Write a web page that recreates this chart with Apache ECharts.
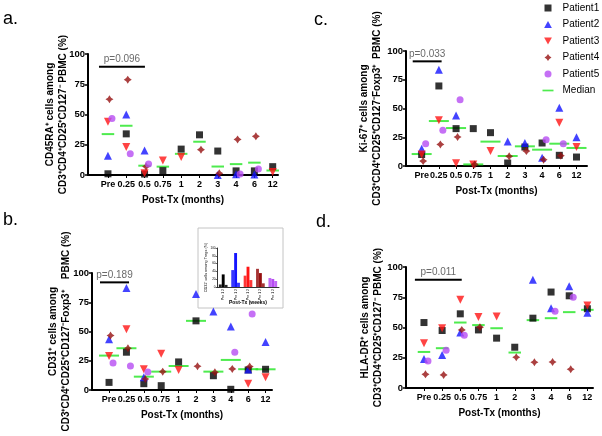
<!DOCTYPE html>
<html><head><meta charset="utf-8">
<script src="https://cdn.jsdelivr.net/npm/echarts@6/dist/echarts.min.js"></script>
<style>html,body{margin:0;padding:0;background:#fff}#c{width:602px;height:436px}</style>
</head><body><div id="c"></div><script>
// ---------- data ----------
const categories = ['Pre','0.25','0.5','0.75','1','2','3','4','6','12'];
const patientNames = ['Patient1','Patient2','Patient3','Patient4','Patient5'];
const insetCategories = ['Pre 1 2','Pre 1 2','Pre 1 2','Pre 1 2','Pre 1 2'];
const insetTimeNames = ['Pre','Week 1','Week 2'];

// a. CD45RA+
const a_P1 = [1, 34, 0.8, 3.6, 21.4, 33.2, 19.8, 3.4, 3.4, 6.9];
const a_P2 = [16, 50, 20.3, null, null, null, 0, 0.6, 0.4, null];
const a_P3 = [44, 23.2, 1.4, 12, 14.9, null, null, null, null, 2.5];
const a_P4 = [62.6, 78.8, 7, null, null, 20.9, 1.4, 29.4, 32, null];
const a_P5 = [46.7, 17.5, 9, null, null, null, null, 0.9, 5, null];
const a_Median = [33.8, 40.7, 7.7, 6.9, 17.5, 27.5, 7, 9, 10.2, 3.7];

// b. CD31+
const b_P1 = [6.5, 32.3, 5.4, 3.7, 24, 59.1, 12.2, 0.6, 17.1, 17.7];
const b_P2 = [43.4, 87.1, 10.9, null, null, 82, 67.1, 54.3, 17.5, 41.1];
const b_P3 = [29.1, 52, 17.8, 30.9, 17.1, null, null, null, 5.3, 10.9];
const b_P4 = [46.6, 35.7, 9.4, 15.7, null, 20.3, 15.1, 18, 20, null];
const b_P5 = [23, 20.6, 15.4, null, null, null, null, 32.3, 64.9, null];
const b_Median = [29.4, 35.7, 11.4, 15.7, 20.5, 59.1, 15.7, 25.7, 17.8, 17.7];

// c. Ki-67+
const c_P1 = [10, 69.6, 32.5, 32.5, 29, 2.6, 16.5, 20, 9.3, 7.8];
const c_P2 = [15, 83.8, 44, null, null, 21.4, 20, 7.2, 50.7, 24.9];
const c_P3 = [9.9, 39.7, 2.3, 1.2, 13, null, null, null, 37.7, 16.5];
const c_P4 = [4.3, 18.8, 25.2, 1.4, null, 8.4, 13, 5.5, 9, null];
const c_P5 = [19.4, 31, 57.7, null, null, null, null, 22.9, 19.4, null];
const c_Median = [10.4, 39.1, 33, 1.4, 21.2, 8.7, 17.1, 14.2, 19.4, 15.7];

// d. HLA-DR+
const d_P1 = [54.1, 47.5, 61.3, 48, 41.2, 33.7, 57.7, 79.3, 76.2, 65.5];
const d_P2 = [24, 27.3, 45.9, null, null, null, 89.5, 66, 84, 62.2];
const d_P3 = [37, 49.4, 72.9, 58.6, 59.1, null, null, null, null, 68.2];
const d_P4 = [11.3, 10.8, 48, 50.3, null, 25.4, 21.3, 21.5, 15.5, null];
const d_P5 = [22.4, 31.2, 43.6, null, null, null, null, 63.5, 75.1, null];
const d_Median = [29.8, 32.9, 54.1, 52, 49.4, 29.3, 56.1, 57.7, 62.7, 64.6];

const pValues = ['p=0.096','p=0.189','p=0.033','p=0.011'];

// ---------- styling ----------
const FONT = '"Liberation Sans", Arial, sans-serif';
const colors = ['#000000','#1414ff','#ff1414','#961010','#b64cf2'];
const medianColor = '#22e622';
const symbols = [
  'path://M0,0H10V10H0Z',
  'path://M5,0L10,9L0,9Z',
  'path://M0,0L10,0L5,9Z',
  'path://M5,0L7,3L10,5L7,7L5,10L3,7L0,5L3,3Z',
  'circle'
];
const symSizes = [7, 8, 8, 8, 7];
const symOffsets = [[0,0],[0,0],[0,0],[1.5,0],[4,0]];

const panels = [
  { series:[a_P1,a_P2,a_P3,a_P4,a_P5], median:a_Median,
    grid:{left:88, top:54, width:190, height:121}, xMin:-1.09, xMax:9.29,
    yName:'CD45RA⁺ cells among\nCD3⁺CD4⁺CD25⁺CD127⁻ PBMC (%)', nameGap:18,
    medW:12.5, pLine:[-0.49, 2.02, 89.5] },
  { series:[b_P1,b_P2,b_P3,b_P4,b_P5], median:b_Median,
    grid:{left:92, top:273, width:180, height:117}, xMin:-0.98, xMax:9.37,
    yName:'CD31⁺ cells among\nCD3⁺CD4⁺CD25⁺CD127⁻Foxp3⁺    PBMC (%)', nameGap:19,
    medW:20, pLine:[-0.52, 1.15, 92] },
  { series:[c_P1,c_P2,c_P3,c_P4,c_P5], median:c_Median,
    grid:{left:406, top:51, width:181, height:115}, xMin:-0.91, xMax:9.61,
    yName:'Ki-67⁺ cells among\nCD3⁺CD4⁺CD25⁺CD127⁻Foxp3⁺  PBMC (%)', nameGap:22,
    medW:20, pLine:[-0.52, 1.16, 91] },
  { series:[d_P1,d_P2,d_P3,d_P4,d_P5], median:d_Median,
    grid:{left:406, top:267, width:187, height:121}, xMin:-0.99, xMax:9.31,
    yName:'HLA-DR⁺ cells among\nCD3⁺CD4⁺CD25⁺CD127⁻ PBMC (%)', nameGap:21,
    medW:12.5, pLine:[-0.5, 2.08, 89.5] }
];

const toPts = arr => arr.map((v,i)=>[i,v]).filter(p=>p[1]!=null);
const catIdx = categories.map((_,i)=>i);

const grids = [], xAxes = [], yAxes = [], series = [];
panels.forEach((p, pi) => {
  grids.push(p.grid);
  xAxes.push({
    type:'value', gridIndex:pi, min:p.xMin, max:p.xMax,
    name:'Post-Tx (months)', nameLocation:'middle', nameGap:20, nameMoveOverlap:false,
    nameTextStyle:{fontFamily:FONT, fontWeight:'bold', fontSize:10, color:'#000'},
    axisLine:{show:true, onZero:false, lineStyle:{color:'#000', width:2}},
    axisTick:{show:true, length:3, customValues:catIdx, lineStyle:{color:'#000', width:1}},
    axisLabel:{customValues:catIdx, formatter:v=>categories[Math.round(v)] ?? '',
      fontFamily:FONT, fontWeight:'bold', fontSize:9, color:'#000', margin:5},
    splitLine:{show:false}
  });
  yAxes.push({
    type:'value', gridIndex:pi, min:0, max:100, interval:25, position:'left',
    name:p.yName, nameLocation:'middle', nameRotate:90, nameGap:p.nameGap, nameMoveOverlap:false,
    nameTextStyle:{fontFamily:FONT, fontWeight:'bold', fontSize:10, color:'#000', lineHeight:13},
    axisLine:{show:true, onZero:false, lineStyle:{color:'#000', width:2}},
    axisTick:{show:true, length:3, lineStyle:{color:'#000', width:1.5}},
    axisLabel:{fontFamily:FONT, fontWeight:'bold', fontSize:9.5, color:'#000', margin:3},
    splitLine:{show:false}
  });
  // p-value bracket
  series.push({
    name:'pBar'+pi, type:'line', xAxisIndex:pi, yAxisIndex:pi, silent:true,
    data:[[p.pLine[0], p.pLine[2]],[p.pLine[1], p.pLine[2]]],
    symbol:'none', lineStyle:{color:'#000', width:2}, z:1
  });
  series.push({
    name:'pText'+pi, type:'scatter', xAxisIndex:pi, yAxisIndex:pi, silent:true,
    data:[[(p.pLine[0]+p.pLine[1])/2, p.pLine[2]]], symbolSize:0,
    label:{show:true, position:'top', distance:2, formatter:pValues[pi],
      fontFamily:FONT, fontSize:10, color:'#444'}, z:1
  });
  // medians
  series.push({
    name:'Median', type:'scatter', xAxisIndex:pi, yAxisIndex:pi,
    data:toPts(p.median), symbol:'rect', symbolSize:[p.medW, 2],
    itemStyle:{color:medianColor}, z:1, silent:true
  });
  p.series.forEach((arr, si) => {
    series.push({
      name:patientNames[si], type:'scatter', xAxisIndex:pi, yAxisIndex:pi,
      data:toPts(arr), symbol:symbols[si], symbolSize:symSizes[si],
      symbolOffset:symOffsets[si], itemStyle:{color:colors[si]}, z:2
    });
  });
});

// inset (panel b, first three time points)
const bAll = panels[1].series;
grids.push({left:217, top:248, width:62, height:39});
xAxes.push({
  type:'category', gridIndex:4, data:insetCategories, z:3,
  name:'Post-Tx (weeks)', nameLocation:'middle', nameGap:13, nameMoveOverlap:false,
  nameTextStyle:{fontFamily:FONT, fontWeight:'bold', fontSize:5, color:'#000'},
  axisLine:{lineStyle:{color:'#000', width:0.8}},
  axisTick:{show:false},
  axisLabel:{rotate:90, fontSize:3.5, fontFamily:FONT, color:'#000', margin:2, interval:0}
});
yAxes.push({
  type:'value', gridIndex:4, min:0, max:100, interval:20, z:3,
  name:'CD31⁺ cells among Tregs (%)', nameLocation:'middle', nameRotate:90, nameGap:9, nameMoveOverlap:false,
  nameTextStyle:{fontFamily:FONT, fontSize:3.8, color:'#000'},
  axisLine:{show:true, onZero:false, lineStyle:{color:'#000', width:0.8}},
  axisTick:{show:true, length:1.5, lineStyle:{color:'#000', width:0.6}},
  axisLabel:{fontSize:3, fontFamily:FONT, color:'#000', margin:1.5},
  splitLine:{show:false}
});
insetTimeNames.forEach((tn, ti) => {
  series.push({
    name:tn, type:'bar', xAxisIndex:4, yAxisIndex:4, z:4,
    barGap:'0%', barCategoryGap:'30%', silent:true,
    data:bAll.map((arr, si)=>({value:arr[ti], itemStyle:{color:colors[si], opacity: ti===1?1:0.85}}))
  });
});

const option = {
  animation:false,
  backgroundColor:'#fff',
  textStyle:{fontFamily:FONT},
  grid:grids, xAxis:xAxes, yAxis:yAxes, series:series,
  legend:{
    orient:'vertical', left:542.5, top:3, padding:0, itemGap:6.5,
    itemWidth:11, itemHeight:7,
    textStyle:{fontFamily:FONT, fontSize:10, color:'#000', padding:[0,0,0,4], lineHeight:7},
    data:[
      {name:'Patient1', icon:symbols[0]},
      {name:'Patient2', icon:symbols[1]},
      {name:'Patient3', icon:symbols[2]},
      {name:'Patient4', icon:symbols[3]},
      {name:'Patient5', icon:'circle'},
      {name:'Median', icon:'path://M0,0H11V1.7H0Z'}
    ]
  },
  graphic:[
    {type:'rect', z:0, shape:{x:198, y:228, width:85, height:80},
      style:{fill:'#fff', stroke:'#c4c4c4', lineWidth:1}},
    {type:'text', x:3, y:19, style:{text:'a.', font:'18px "Liberation Sans", Arial', fill:'#000', verticalAlign:'middle'}},
    {type:'text', x:3, y:220.5, style:{text:'b.', font:'18px "Liberation Sans", Arial', fill:'#000', verticalAlign:'middle'}},
    {type:'text', x:314, y:20.5, style:{text:'c.', font:'18px "Liberation Sans", Arial', fill:'#000', verticalAlign:'middle'}},
    {type:'text', x:316, y:222, style:{text:'d.', font:'18px "Liberation Sans", Arial', fill:'#000', verticalAlign:'middle'}}
  ]
};
const chart = echarts.init(document.getElementById('c'), null, {renderer:'canvas'});
chart.setOption(option);
</script></body></html>
